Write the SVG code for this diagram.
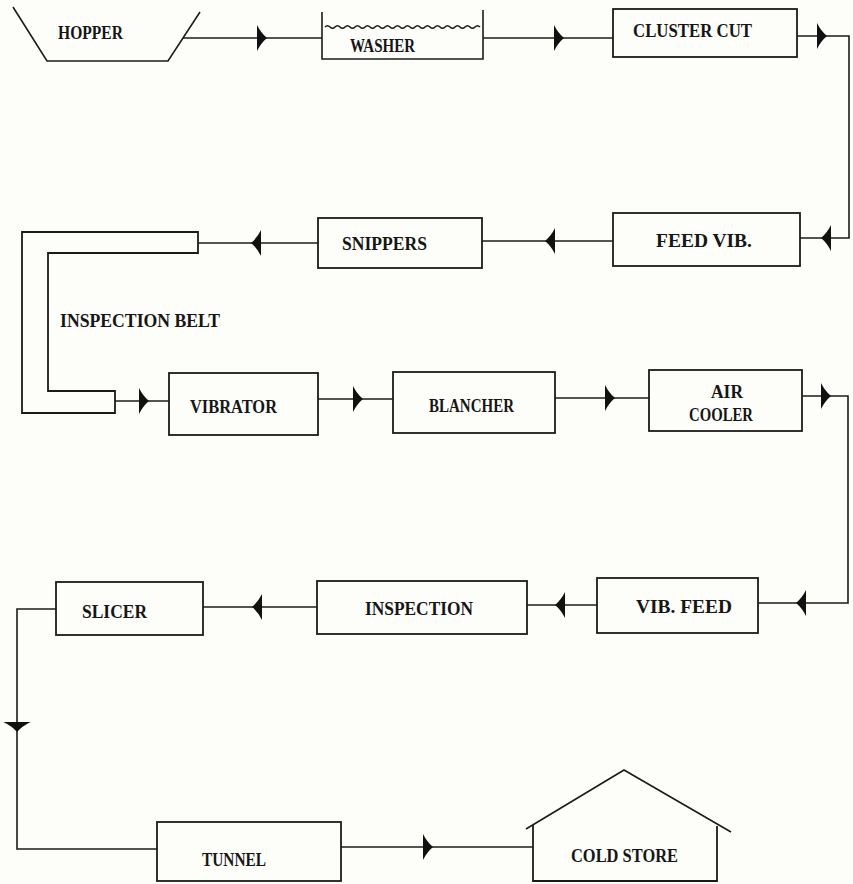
<svg xmlns="http://www.w3.org/2000/svg" xmlns:xlink="http://www.w3.org/1999/xlink" width="853" height="884" viewBox="0 0 853 884">
<style>
.ln{fill:none;stroke:#1b1b1b;stroke-width:1.6;stroke-linejoin:miter}
.bx{fill:none;stroke:#1b1b1b;stroke-width:1.8}
.ah{fill:#111}
.t{font-family:"Liberation Serif","Times New Roman",serif;font-size:18px;font-weight:bold;fill:#161616}
</style>
<defs>
<path id="arr" d="M0,-13 Q4,-5 10,0 Q4,5 0,13 Z"/>
</defs>
<rect x="0" y="0" width="853" height="884" fill="#fdfdf9"/>

<g id="connectors">
<path class="ln" d="M183,38 H322"/>
<use href="#arr" class="ah" transform="translate(257,38)"/>
<path class="ln" d="M483,38 H613"/>
<use href="#arr" class="ah" transform="translate(554,38)"/>
<path class="ln" d="M797,36 H849 V238 H800"/>
<use href="#arr" class="ah" transform="translate(817,36)"/>
<use href="#arr" class="ah" transform="translate(831,238) rotate(180)"/>
<path class="ln" d="M613,241 H482"/>
<use href="#arr" class="ah" transform="translate(555,241) rotate(180)"/>
<path class="ln" d="M318,243 H198"/>
<use href="#arr" class="ah" transform="translate(261,243) rotate(180)"/>
<path class="ln" d="M115,401 H169"/>
<use href="#arr" class="ah" transform="translate(139,401)"/>
<path class="ln" d="M318,399 H393"/>
<use href="#arr" class="ah" transform="translate(353,399)"/>
<path class="ln" d="M555,398 H649"/>
<use href="#arr" class="ah" transform="translate(605,398)"/>
<path class="ln" d="M802,396 H848 V603 H758"/>
<use href="#arr" class="ah" transform="translate(821,396)"/>
<use href="#arr" class="ah" transform="translate(806,603) rotate(180)"/>
<path class="ln" d="M597,605 H527"/>
<use href="#arr" class="ah" transform="translate(565,605) rotate(180)"/>
<path class="ln" d="M317,607 H203"/>
<use href="#arr" class="ah" transform="translate(262,607) rotate(180)"/>
<path class="ln" d="M56,609 H17 V849 H157"/>
<use href="#arr" class="ah" transform="translate(17,722) rotate(90) scale(1,1.05)"/>
<path class="ln" d="M341,847 H533"/>
<use href="#arr" class="ah" transform="translate(423,847)"/>
</g>

<g id="hopper">
<path class="ln" d="M13,7 L47,61 H168 L200,12"/>
<text class="t" x="58" y="39" textLength="65" lengthAdjust="spacingAndGlyphs">HOPPER</text>
</g>

<g id="washer">
<path class="ln" d="M322,12 V59 H483 V10"/>
<path class="ln" stroke-width="1.2" d="M325,27 q2.5,-2.5 5,0 t5,0 t5,0 t5,0 t5,0 t5,0 t5,0 t5,0 t5,0 t5,0 t5,0 t5,0 t5,0 t5,0 t5,0 t5,0 t5,0 t5,0 t5,0 t5,0 t5,0 t5,0 t5,0 t5,0 t5,0 t5,0 t5,0 t5,0 t5,0 t5,0 t5,0"/>
<text class="t" x="350" y="52" textLength="65" lengthAdjust="spacingAndGlyphs">WASHER</text>
</g>

<g id="cluster-cut">
<rect class="bx" x="613" y="9" width="184" height="48"/>
<text class="t" x="633" y="37" textLength="119" lengthAdjust="spacingAndGlyphs">CLUSTER CUT</text>
</g>

<g id="feed-vib">
<rect class="bx" x="613" y="213" width="187" height="53"/>
<text class="t" x="656" y="247" textLength="96" lengthAdjust="spacingAndGlyphs">FEED VIB.</text>
</g>

<g id="snippers">
<rect class="bx" x="318" y="218" width="164" height="50"/>
<text class="t" x="342" y="250" textLength="85" lengthAdjust="spacingAndGlyphs">SNIPPERS</text>
</g>

<g id="inspection-belt">
<path class="bx" d="M198,232 H22 V413 H115 V391 H48 V253 H198 Z"/>
<text class="t" x="60" y="327" textLength="160" lengthAdjust="spacingAndGlyphs">INSPECTION BELT</text>
</g>

<g id="vibrator">
<rect class="bx" x="169" y="373" width="149" height="62"/>
<text class="t" x="190" y="413" textLength="87" lengthAdjust="spacingAndGlyphs">VIBRATOR</text>
</g>

<g id="blancher">
<rect class="bx" x="393" y="372" width="162" height="61"/>
<text class="t" x="429" y="412" textLength="85" lengthAdjust="spacingAndGlyphs">BLANCHER</text>
</g>

<g id="air-cooler">
<rect class="bx" x="649" y="370" width="153" height="61"/>
<text class="t" x="711" y="398" textLength="32" lengthAdjust="spacingAndGlyphs">AIR</text>
<text class="t" x="689" y="421" textLength="64" lengthAdjust="spacingAndGlyphs">COOLER</text>
</g>

<g id="vib-feed">
<rect class="bx" x="597" y="578" width="161" height="55"/>
<text class="t" x="636" y="613" textLength="96" lengthAdjust="spacingAndGlyphs">VIB. FEED</text>
</g>

<g id="inspection">
<rect class="bx" x="317" y="581" width="210" height="53"/>
<text class="t" x="365" y="615" textLength="108" lengthAdjust="spacingAndGlyphs">INSPECTION</text>
</g>

<g id="slicer">
<rect class="bx" x="56" y="582" width="147" height="53"/>
<text class="t" x="82" y="618" textLength="65" lengthAdjust="spacingAndGlyphs">SLICER</text>
</g>

<g id="tunnel">
<rect class="bx" x="157" y="822" width="184" height="59"/>
<text class="t" x="202" y="866" textLength="64" lengthAdjust="spacingAndGlyphs">TUNNEL</text>
</g>

<g id="cold-store">
<path class="ln" d="M526,829 L624,770 L731,832"/>
<path class="bx" d="M533,825 V881 H717 V826"/>
<text class="t" x="571" y="862" textLength="107" lengthAdjust="spacingAndGlyphs">COLD STORE</text>
</g>
</svg>
